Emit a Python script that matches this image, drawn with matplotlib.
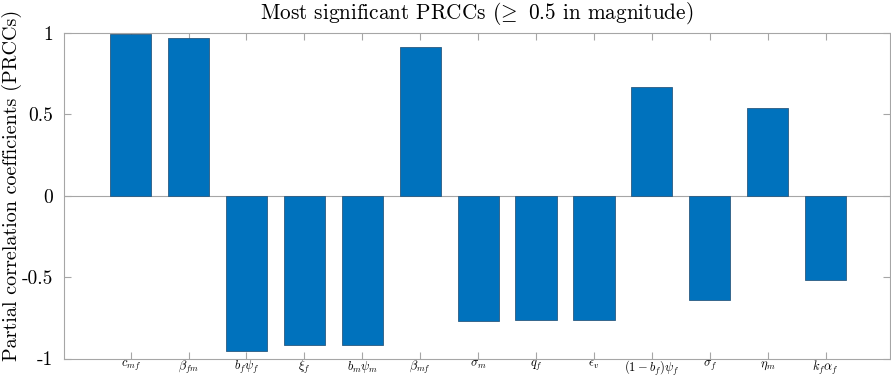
import matplotlib.pyplot as plt

plt.rcParams['mathtext.fontset'] = 'cm'
plt.rcParams['font.family'] = ['cmr10', 'DejaVu Serif']
plt.rcParams['axes.unicode_minus'] = False

params = [r'$c_{mf}$', r'$\beta_{fm}$', r'$b_f\psi_f$', r'$\xi_f$', r'$b_m\psi_m$',
          r'$\beta_{mf}$', r'$\sigma_m$', r'$q_f$', r'$\epsilon_v$', r'$(1-b_f)\psi_f$',
          r'$\sigma_f$', r'$\eta_m$', r'$k_f\alpha_f$']
prcc = [0.995, 0.972, -0.954, -0.915, -0.915, 0.915, -0.770, -0.762, -0.762,
        0.670, -0.640, 0.540, -0.518]
yticks = [-1, -0.5, 0, 0.5, 1]
yticklabels = ['-1', '-0.5', '0', '0.5', '1']

fig = plt.figure(figsize=(8.91, 3.77), dpi=100)
ax = fig.add_axes([0.0718, 0.049, 0.927, 0.8635])

x = list(range(1, len(prcc) + 1))
ax.bar(x, prcc, width=0.71, color='#0072BD', edgecolor='#2b5a80', linewidth=0.6, zorder=2)
ax.axhline(0, color='#a6a6a6', linewidth=0.8, zorder=1)

ax.set_xlim(-0.15, 14.11)
ax.set_ylim(-1, 1)
ax.set_xticks(x)
ax.set_xticklabels(params, fontsize=9)
ax.set_yticks(yticks)
ax.set_yticklabels(yticklabels, fontsize=14)
ax.tick_params(direction='in', length=5, color='#a6a6a6', top=True, right=True)
ax.tick_params(axis='x', pad=0.5)
ax.tick_params(axis='y', pad=8)
for s in ax.spines.values():
    s.set_color('#a6a6a6')
    s.set_linewidth(0.8)

ax.set_ylabel('Partial correlation coefficients (PRCCs)', fontsize=14.5)
ax.yaxis.set_label_coords(-0.051, 0.531)
ax.set_title(r'Most significant PRCCs $(\!{\geq}$ 0.5 in magnitude)', fontsize=15.3, pad=10)

fig.savefig('out.png', dpi=100)
